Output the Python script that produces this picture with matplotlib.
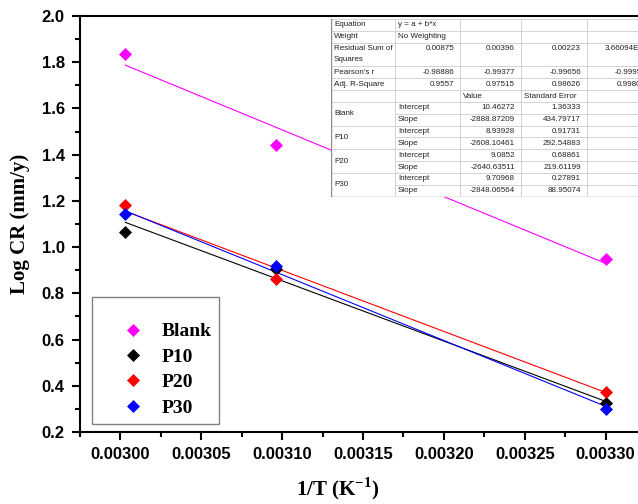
import matplotlib
matplotlib.use("Agg")
import matplotlib.pyplot as plt
from matplotlib.patches import Rectangle
from matplotlib.ticker import MultipleLocator

plt.rcParams["mathtext.fontset"] = "custom"
plt.rcParams["mathtext.rm"] = "Liberation Serif:bold"
plt.rcParams["mathtext.bf"] = "Liberation Serif:bold"

# data
inv_T = [0.003003, 0.003096, 0.0033]
series = ["Blank", "P10", "P20", "P30"]
colors = ["#ff00ff", "black", "red", "blue"]
log_cr = {
    "Blank": [1.836, 1.443, 0.949],
    "P10": [1.066, 0.905, 0.327],
    "P20": [1.184, 0.862, 0.374],
    "P30": [1.143, 0.917, 0.298],
}

# linear fit results (table)
rss = ["0.00875", "0.00396", "0.00223", "3.66094E-4"]
pearson = ["-0.98886", "-0.99377", "-0.99656", "-0.99951"]
adj_r2 = ["0.9557", "0.97515", "0.98626", "0.99805"]
intercept = ["10.46272", "8.93928", "9.0852", "9.70968"]
intercept_se = ["1.36333", "0.91731", "0.68861", "0.27891"]
slope = ["-2888.87209", "-2608.10461", "-2640.63511", "-2848.06564"]
slope_se = ["434.79717", "292.54883", "219.61199", "88.95074"]

W, H = 638, 504
fig = plt.figure(figsize=(W / 100, H / 100), dpi=100)
ax = fig.add_axes([80 / W, 1 - 432 / H, (W - 80) / W, 416 / H])

for k, c in enumerate(colors):
    a = float(intercept[k])
    b = float(slope[k])
    xs = [inv_T[0], inv_T[-1]]
    ax.plot(xs, [a + b * x for x in xs], color=c, lw=0.8, zorder=2)
for name, c in zip(series, colors):
    ax.plot(inv_T, log_cr[name], ls="none", marker="D", ms=6.6, mfc=c, mec=c,
            mew=0.5, label=name, zorder=3)

ax.set_xlim(0.002975, 0.00332)
ax.set_ylim(0.2, 2.0)
ax.xaxis.set_major_locator(MultipleLocator(0.00005))
ax.xaxis.set_minor_locator(MultipleLocator(0.000025))
ax.yaxis.set_major_locator(MultipleLocator(0.2))
ax.yaxis.set_minor_locator(MultipleLocator(0.1))
ax.xaxis.set_major_formatter(lambda v, p: f"{v:.5f}")
ax.yaxis.set_major_formatter(lambda v, p: f"{v:.1f}")

ax.spines["right"].set_visible(False)
for s in ["left", "bottom", "top"]:
    ax.spines[s].set_linewidth(1.5)
ax.tick_params(which="major", direction="out", length=6, width=1.5, pad=5,
               labelsize=12, top=False, right=False)
ax.tick_params(which="minor", direction="out", length=3.5, width=1.5,
               top=False, right=False)
for lab in ax.get_xticklabels() + ax.get_yticklabels():
    lab.set_fontfamily("Liberation Sans")
    lab.set_fontweight("bold")

ax.set_xlabel("1/T (K$^{-1}$)", fontfamily="Liberation Serif",
              fontweight="bold", fontsize=15, va="center")
ax.set_ylabel("Log CR (mm/y)", fontfamily="Liberation Serif",
              fontweight="bold", fontsize=15)
ax.xaxis.set_label_coords((338 - 80) / (W - 80), -(489 - 432) / 416)
ax.yaxis.set_label_coords(-0.09, 0.5)

leg = ax.legend(loc="lower left",
                bbox_to_anchor=((92.3 - 80) / (W - 80), (432 - 424.3) / 416),
                borderaxespad=0, fancybox=False, edgecolor="#808080",
                framealpha=1, prop={"family": "Liberation Serif",
                                    "weight": "bold", "size": 14},
                handlelength=3.4, handletextpad=-0.25, borderpad=0.4,
                labelspacing=0.4, title=" ", title_fontsize=7)
leg.get_frame().set_linewidth(1.0)

# fit result table drawn in pixel coordinates
x0, x1, y0 = 331, 652, 19
col_edges = [331, 395, 460, 521, 587, 652]
row_units = [1, 1, 2, 1, 1, 1] + [1] * 8
rh = 11.85
row_edges = [y0]
for u in row_units:
    row_edges.append(row_edges[-1] + u * rh)
y1 = row_edges[-1]

tab = fig.add_axes([x0 / W, 1 - y1 / H, (x1 - x0) / W, (y1 - y0) / H])
tab.set_xlim(x0, x1)
tab.set_ylim(y1, y0)
tab.axis("off")
tab.add_patch(Rectangle((x0, y0), x1 - x0, y1 - y0, fc="white", ec="none"))

grid_c = "#cccccc"
for i, y in enumerate(row_edges[1:-1], start=1):
    start = x0
    # merged group label cells in the first column
    if i >= 7 and (i - 7) % 2 == 0:
        start = col_edges[1]
    tab.plot([start, x1], [y, y], color=grid_c, lw=0.6)
for x in col_edges[1:-1]:
    tab.plot([x, x], [y0, y1], color=grid_c, lw=0.6)
tab.plot([x0, x1], [y0, y0], color=grid_c, lw=0.6)
tab.plot([x0, x0, x1], [y0, y1, y1], color="#8c8c8c", lw=1.0)

fs = 5.8
fam = "Liberation Sans"


def cell_text(r, c, s, ha="left", top=False):
    ya = row_edges[r] + rh / 2 if top else (row_edges[r] + row_edges[r + 1]) / 2
    if ha == "left":
        xa = col_edges[c] + 3
    else:
        xa = col_edges[c + 1] - 6
    tab.text(xa, ya, s, ha=ha, va="center", fontsize=fs, family=fam,
             color="#222222")


cell_text(0, 0, "Equation")
cell_text(0, 1, "y = a + b*x")
cell_text(1, 0, "Weight")
cell_text(1, 1, "No Weighting")
cell_text(2, 0, "Residual Sum of", top=True)
tab.text(col_edges[0] + 3, row_edges[2] + rh * 1.45, "Squares", ha="left",
         va="center", fontsize=fs, family=fam, color="#222222")
cell_text(3, 0, "Pearson's r")
cell_text(4, 0, "Adj. R-Square")
for k in range(4):
    cell_text(2, k + 1, rss[k], ha="right", top=True)
    cell_text(3, k + 1, pearson[k], ha="right")
    cell_text(4, k + 1, adj_r2[k], ha="right")
cell_text(5, 2, "Value")
cell_text(5, 3, "Standard Error")
for k, name in enumerate(series):
    r = 6 + 2 * k
    tab.text(col_edges[0] + 3, row_edges[r + 1], name, ha="left", va="center",
             fontsize=fs, family=fam, color="#222222")
    cell_text(r, 1, "Intercept")
    cell_text(r, 2, intercept[k], ha="right")
    cell_text(r, 3, intercept_se[k], ha="right")
    cell_text(r + 1, 1, "Slope")
    cell_text(r + 1, 2, slope[k], ha="right")
    cell_text(r + 1, 3, slope_se[k], ha="right")

fig.savefig("out.png", dpi=100)
